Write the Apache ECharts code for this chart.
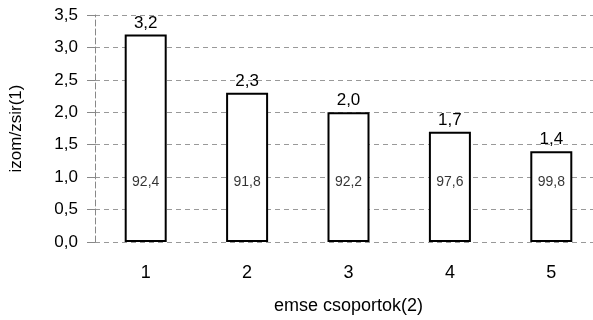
<!DOCTYPE html>
<html><head><meta charset="utf-8">
<script src="https://cdn.jsdelivr.net/npm/echarts@6/dist/echarts.min.js"></script>
<style>html,body{margin:0;padding:0;background:#fff;overflow:hidden;width:593px;height:320px}#c{width:603px;height:320px}</style>
</head><body><div id="c"></div>
<script>
const categories = ['1', '2', '3', '4', '5'];
const ratioValues = [3.2, 2.3, 2.0, 1.7, 1.4];
const insideValues = [92.4, 91.8, 92.2, 97.6, 99.8];
const yTicks = { min: 0, max: 3.5, interval: 0.5 };
const insideLabelLevel = 0.93;

const fmt = v => Number(v).toFixed(1).replace('.', ',');
const font = 'Liberation Sans, Arial, sans-serif';
const chart = echarts.init(document.getElementById('c'), null, { renderer: 'canvas' });
chart.setOption({
  animation: false,
  backgroundColor: '#fff',
  grid: { left: 95, right: 1, top: 15, bottom: 76, containLabel: false },
  xAxis: {
    type: 'category', data: categories,
    name: 'emse csoportok(2)', nameLocation: 'middle', nameGap: 55,
    nameTextStyle: { fontFamily: font, fontSize: 18, color: '#000' },
    axisLine: { show: false }, axisTick: { show: false },
    axisLabel: { fontFamily: font, fontSize: 18, color: '#000', margin: 22 }
  },
  yAxis: {
    type: 'value', min: yTicks.min, max: yTicks.max, interval: yTicks.interval,
    name: 'izom/zsir(1)', nameLocation: 'middle', nameGap: 70,
    nameTextStyle: { fontFamily: font, fontSize: 17, color: '#000' },
    axisLine: { show: true, lineStyle: { color: '#888', type: [6, 3] } },
    axisTick: { show: true, inside: false, length: 8, lineStyle: { color: '#888' } },
    axisLabel: { fontFamily: font, fontSize: 17, color: '#000', margin: 17, formatter: v => fmt(v) },
    splitLine: { show: true, lineStyle: { color: '#999', type: [5, 4], width: 1 } }
  },
  series: [
    {
      type: 'bar', data: ratioValues, barWidth: 42,
      itemStyle: { color: '#fff', borderColor: '#000', borderWidth: 2 },
      label: { show: true, position: 'top', distance: 3, fontFamily: font, fontSize: 17, color: '#000', formatter: p => fmt(p.value) },
      z: 3
    },
    {
      type: 'scatter', symbolSize: 0,
      data: insideValues.map((v, i) => ({ value: [i, insideLabelLevel], txt: v })),
      label: { show: true, position: 'inside', fontFamily: font, fontSize: 14, color: '#000', formatter: p => fmt(p.data.txt) },
      z: 5
    }
  ]
});
</script></body></html>
